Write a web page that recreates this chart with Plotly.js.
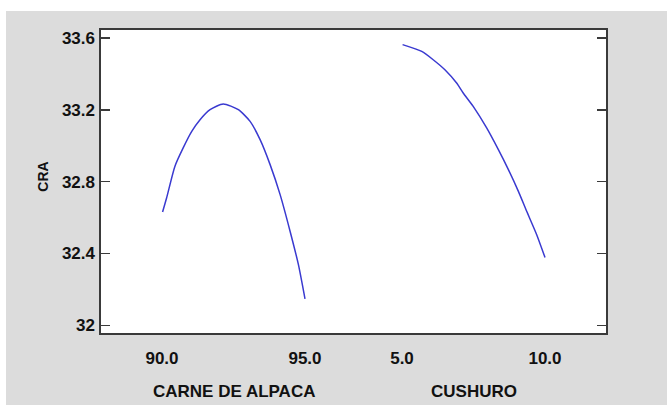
<!DOCTYPE html>
<html>
<head>
<meta charset="utf-8">
<script src="https://cdn.plot.ly/plotly-3.0.1.min.js"></script>
<style>
  html, body { margin: 0; padding: 0; background: #ffffff; }
  #chart { position: absolute; left: 6px; top: 11px; width: 661px; height: 394px; }
</style>
</head>
<body>
<div id="chart"></div>
<script>
// Main effects for CRA
const factorNames = ["CARNE DE ALPACA", "CUSHURO"];

const carneX   = [90.02, 90.16, 90.45, 90.74, 91.04, 91.33, 91.68, 92.14, 92.67, 93.08, 93.43, 93.78, 94.13, 94.48, 94.77, 95.0];
const carneCRA = [32.631, 32.709, 32.885, 32.988, 33.080, 33.145, 33.201, 33.233, 33.201, 33.136, 33.034, 32.895, 32.728, 32.523, 32.338, 32.148];

const cushuroX   = [5.02, 5.69, 6.09, 6.50, 6.91, 7.14, 7.49, 7.96, 8.37, 8.72, 9.07, 9.36, 9.71, 10.0];
const cushuroCRA = [33.563, 33.525, 33.479, 33.423, 33.349, 33.294, 33.219, 33.099, 32.978, 32.867, 32.746, 32.635, 32.505, 32.378];

const carneTicks   = [90.0, 95.0];
const cushuroTicks = [5.0, 10.0];
const yTickVals = [32, 32.4, 32.8, 33.2, 33.6];
const yTickText = ["32", "32.4", "32.8", "33.2", "33.6"];

const ink = "#111111";
const frame = "#3a3a3a";
const lineColor = "#3a3ad0";
const labelFont = { family: "Liberation Sans, Arial, sans-serif", size: 17, color: ink, weight: "bold" };

const yRange = [31.952, 33.65];
const mid = a => (a[0] + a[a.length - 1]) / 2;

const curveLine = { color: lineColor, width: 1.5, shape: "spline", smoothing: 0.6 };

const traces = [
  { x: carneX, y: carneCRA, xaxis: "x", yaxis: "y", mode: "lines",
    line: curveLine, hoverinfo: "skip", showlegend: false },
  { x: cushuroX, y: cushuroCRA, xaxis: "x2", yaxis: "y2", mode: "lines",
    line: curveLine, hoverinfo: "skip", showlegend: false }
];

const xCommon = {
  ticks: "", showgrid: false, zeroline: false, showline: false,
  tickfont: labelFont, ticklabelstandoff: 12, fixedrange: true
};

const layout = {
  width: 661, height: 394,
  margin: { l: 94, r: 60, t: 18, b: 71 },
  paper_bgcolor: "#dcdcdc",
  plot_bgcolor: "rgba(0,0,0,0)",
  xaxis: Object.assign({}, xCommon, {
    domain: [0, 0.5], anchor: "y", range: [87.832, 96.696],
    tickvals: carneTicks, ticktext: carneTicks.map(v => v.toFixed(1))
  }),
  xaxis2: Object.assign({}, xCommon, {
    domain: [0.5, 1], anchor: "y2", range: [3.304, 12.168],
    tickvals: cushuroTicks, ticktext: cushuroTicks.map(v => v.toFixed(1))
  }),
  yaxis: {
    anchor: "x", side: "left", range: yRange,
    tickvals: yTickVals, ticktext: yTickText,
    ticks: "inside", ticklen: 10, tickwidth: 1.5, tickcolor: frame,
    tickfont: labelFont, ticklabelstandoff: 4,
    showgrid: false, zeroline: false, showline: false, fixedrange: true
  },
  yaxis2: {
    anchor: "x2", side: "right", matches: "y", range: yRange,
    tickvals: yTickVals, showticklabels: false,
    ticks: "inside", ticklen: 10, tickwidth: 1.5, tickcolor: frame,
    showgrid: false, zeroline: false, showline: false, fixedrange: true
  },
  shapes: [
    // one white panel behind both factor subplots
    { type: "rect", xref: "paper", yref: "paper", x0: 0, x1: 1, y0: 0, y1: 1,
      line: { width: 0 }, fillcolor: "#ffffff", layer: "below" },
    // frame around the whole plotting area
    { type: "rect", xref: "paper", yref: "paper", x0: 0, x1: 1, y0: 0, y1: 1,
      line: { color: frame, width: 2 }, fillcolor: "rgba(0,0,0,0)", layer: "above" }
  ],
  annotations: [
    { text: factorNames[0], xref: "x", yref: "paper", x: mid(carneTicks), y: -0.19,
      xanchor: "center", yanchor: "middle", showarrow: false, font: labelFont },
    { text: factorNames[1], xref: "x2", yref: "paper", x: mid(cushuroTicks), y: -0.19,
      xanchor: "center", yanchor: "middle", showarrow: false, font: labelFont },
    { text: "CRA", xref: "paper", yref: "paper", x: -0.1124, y: 0.516, textangle: -90,
      xanchor: "center", yanchor: "middle", showarrow: false,
      font: { family: "Liberation Sans, Arial, sans-serif", size: 14, color: ink, weight: "bold" } }
  ]
};

Plotly.newPlot("chart", traces, layout, { displayModeBar: false, staticPlot: true });
</script>
</body>
</html>
